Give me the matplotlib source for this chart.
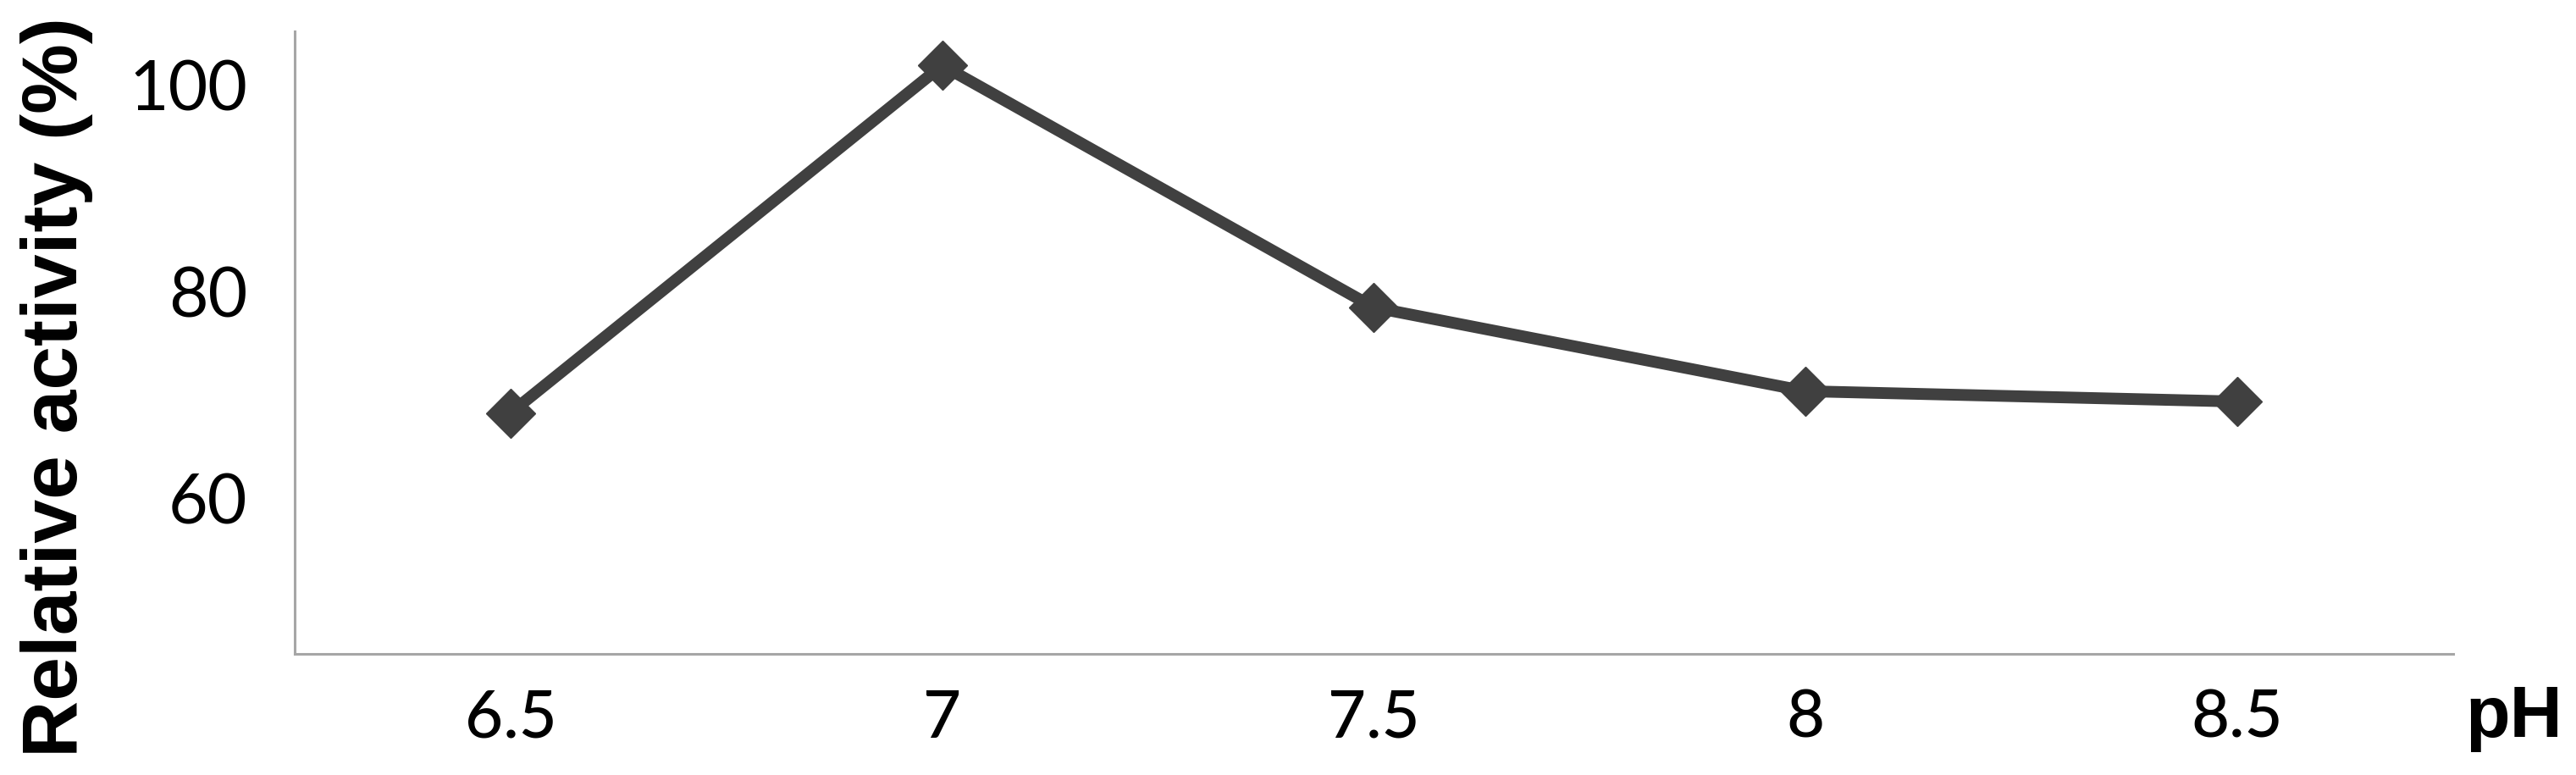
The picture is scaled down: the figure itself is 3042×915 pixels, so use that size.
import matplotlib
matplotlib.use("Agg")
import matplotlib.pyplot as plt
from matplotlib import font_manager

# pH series
ph_labels = ["6.5", "7", "7.5", "8", "8.5"]
activity = [68.3, 101.9, 78.5, 70.4, 69.4]
y_ticks = [60, 80, 100]

available = {f.name for f in font_manager.fontManager.ttflist}
tick_font = "Lato" if "Lato" in available else "DejaVu Sans"

fig = plt.figure(figsize=(30.42, 9.15), dpi=100)
ax = fig.add_axes([0.1144, 0.1563, 0.8379, 0.8033])

x = range(len(ph_labels))
ax.plot(x, activity, color="#404040", linewidth=10,
        marker="D", markersize=30, markerfacecolor="#404040",
        markeredgecolor="#404040", markeredgewidth=1)

ax.set_xlim(-0.5, len(ph_labels) - 0.5)
ax.set_ylim(45, 105.2)
ax.set_xticks(list(x))
ax.set_xticklabels(ph_labels, fontsize=56, family=tick_font, fontweight="medium")
ax.set_yticks(y_ticks)
ax.set_yticklabels([str(v) for v in y_ticks], fontsize=58, family=tick_font)
ax.tick_params(axis="both", length=0)
ax.tick_params(axis="y", pad=40)
ax.tick_params(axis="x", pad=30)

for side in ["top", "right"]:
    ax.spines[side].set_visible(False)
for side in ["left", "bottom"]:
    ax.spines[side].set_color("#a6a6a6")
    ax.spines[side].set_linewidth(2.2)

fig.text(0.022, 0.5, "Relative activity (%)", rotation=90, ha="center", va="center",
         fontsize=67, fontweight="bold", family="Liberation Sans")
fig.text(0.976, 0.073, "pH", ha="center", va="center",
         fontsize=62, fontweight="bold", family="Liberation Sans")

fig.savefig("out.png", dpi=100, facecolor="white")
